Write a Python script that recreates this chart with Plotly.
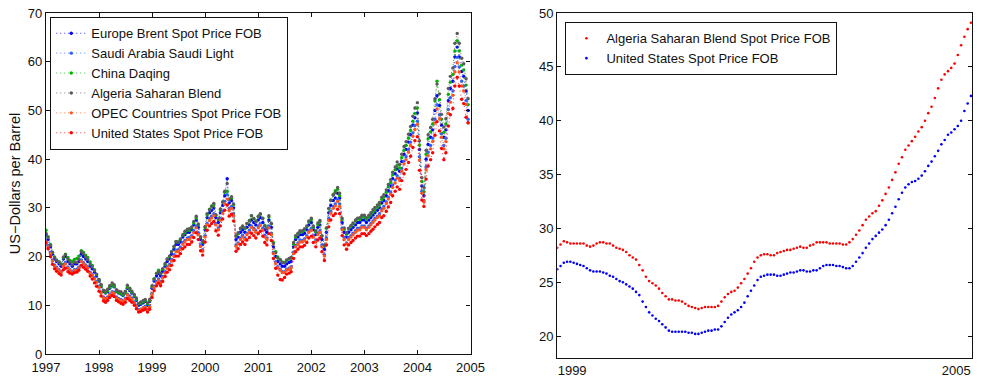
import plotly.graph_objects as go
import pandas as pd

# ---------------- Left chart data (semi-monthly, chart time 1997-2005) ----------------
dates_left = pd.date_range('1997-01-01', periods=192, freq='SMS')

europe_brent = [
    24.5, 23.5, 22.0, 20.5, 19.5, 19.0, 18.5, 18.0, 19.5, 20.0, 19.0, 18.5, 18.0, 18.5, 18.5, 19.0, 20.5, 20.0, 19.5, 19.0, 18.0, 17.5, 16.8, 16.0,
    15.0, 13.8, 12.8, 12.5, 12.8, 13.5, 14.0, 13.8, 12.8, 12.5, 12.3, 12.0, 12.5, 13.5, 13.0, 12.5, 11.8, 11.0, 10.0, 10.2, 10.5, 10.8, 10.0, 10.8,
    13.5, 15.0, 16.0, 16.5, 16.0, 17.0, 18.0, 19.0, 19.5, 20.5, 21.5, 22.5, 22.5, 23.0, 24.0, 24.5, 25.0, 25.0, 25.5, 26.5, 27.5, 26.0, 23.5, 22.5,
    25.5, 28.0, 29.0, 29.5, 30.0, 28.0, 27.0, 29.0, 30.5, 32.5, 36.0, 31.0, 31.5, 30.0, 23.5, 24.0, 25.0, 25.5, 25.0, 26.0, 26.5, 27.5, 27.0, 26.5,
    27.5, 28.0, 27.0, 25.5, 25.0, 27.5, 26.0, 22.0, 20.0, 19.0, 18.5, 18.0, 18.0, 18.5, 18.8, 19.0, 22.0, 23.5, 24.0, 24.5, 24.5, 24.8, 25.5, 26.5,
    27.0, 25.5, 24.5, 26.0, 26.5, 23.5, 21.5, 25.0, 29.0, 30.5, 31.5, 32.0, 33.0, 32.0, 27.0, 25.0, 24.0, 25.0, 25.5, 26.0, 26.5, 27.0, 27.0, 27.5,
    27.5, 27.0, 27.5, 28.0, 28.5, 29.0, 29.5, 30.0, 31.0, 31.5, 32.5, 33.5, 34.5, 36.0, 37.0, 38.0, 37.5, 39.5, 41.0, 42.0, 43.5, 45.0, 47.0, 48.5,
    49.5, 42.0, 34.5, 32.5, 40.0, 43.0, 44.5, 46.0, 50.0, 53.0, 51.0, 47.0, 44.5, 46.0, 52.0, 54.5, 56.0, 61.0, 63.0, 61.0, 58.0, 57.0, 54.0, 50.0,
]

saudi_light = [
    23.2, 22.3, 20.9, 19.3, 18.3, 17.8, 17.3, 16.9, 18.4, 18.8, 17.8, 17.3, 16.9, 17.3, 17.4, 17.8, 19.3, 18.8, 18.3, 17.9, 16.8, 16.3, 15.7, 14.9,
    13.9, 12.7, 11.7, 11.4, 11.7, 12.3, 12.8, 12.7, 11.7, 11.4, 11.2, 10.9, 11.4, 12.3, 11.9, 11.4, 10.7, 10.0, 9.1, 9.2, 9.5, 9.8, 9.1, 9.8,
    12.4, 13.9, 14.9, 15.4, 14.9, 15.9, 16.9, 17.9, 18.4, 19.4, 20.4, 21.3, 21.4, 21.9, 22.9, 23.3, 23.8, 23.9, 24.3, 25.3, 26.3, 24.9, 22.4, 21.4,
    24.3, 26.8, 27.8, 28.3, 28.8, 26.8, 25.9, 27.8, 29.3, 31.3, 32.7, 29.9, 30.3, 28.8, 22.4, 22.8, 23.8, 24.4, 23.8, 24.8, 25.4, 26.3, 25.8, 25.3,
    26.3, 26.8, 25.8, 24.4, 23.8, 26.3, 24.8, 20.9, 18.9, 17.9, 17.4, 16.9, 16.9, 17.4, 17.6, 17.9, 20.9, 22.3, 22.8, 23.4, 23.3, 23.6, 24.3, 25.3,
    25.8, 24.3, 23.4, 24.8, 25.3, 22.4, 20.4, 23.8, 27.8, 29.3, 30.3, 30.8, 31.8, 30.8, 25.8, 23.9, 22.8, 23.9, 24.3, 24.8, 25.3, 25.8, 25.8, 26.3,
    26.3, 25.8, 26.3, 26.8, 27.3, 27.8, 28.3, 28.8, 29.8, 30.3, 31.2, 32.2, 33.2, 34.7, 35.7, 36.6, 36.1, 38.1, 39.6, 40.5, 42.0, 43.5, 45.4, 46.9,
    47.8, 40.5, 33.4, 31.4, 38.4, 41.4, 42.8, 44.3, 48.2, 51.2, 49.1, 45.2, 42.8, 44.3, 50.2, 52.6, 54.0, 59.0, 60.9, 58.9, 56.0, 55.0, 52.0, 48.2,
]

china_daqing = [
    25.4, 24.1, 22.5, 20.8, 19.9, 19.3, 18.9, 18.5, 19.8, 20.5, 19.8, 19.2, 19.0, 19.4, 19.6, 20.1, 21.2, 20.9, 20.3, 19.8, 18.9, 18.2, 17.3, 16.3,
    15.2, 14.0, 13.0, 12.6, 13.0, 13.7, 14.2, 13.9, 12.9, 12.6, 12.4, 12.1, 12.6, 13.7, 13.2, 12.7, 11.9, 11.2, 10.3, 10.4, 10.7, 11.0, 10.3, 11.0,
    13.8, 15.4, 16.6, 17.2, 16.5, 17.4, 18.4, 19.5, 20.0, 21.0, 22.0, 23.0, 23.0, 23.5, 24.4, 24.9, 25.4, 25.4, 25.9, 26.9, 27.9, 26.5, 24.0, 23.0,
    26.0, 28.6, 29.7, 30.4, 30.6, 28.5, 27.6, 29.6, 31.2, 33.2, 33.4, 31.8, 32.1, 30.7, 24.2, 24.7, 25.7, 26.2, 25.8, 26.8, 27.4, 28.4, 27.8, 27.3,
    28.2, 28.7, 27.9, 26.4, 25.9, 28.1, 26.8, 22.9, 21.0, 19.9, 19.4, 18.9, 18.8, 19.2, 19.5, 19.8, 22.6, 24.0, 24.6, 25.1, 25.1, 25.4, 26.1, 27.1,
    27.6, 26.0, 25.1, 26.6, 27.2, 24.2, 22.2, 25.8, 29.8, 31.6, 32.8, 33.5, 33.8, 32.5, 27.6, 25.6, 24.6, 25.7, 26.2, 26.7, 27.3, 27.7, 27.6, 28.1,
    28.1, 27.6, 28.1, 28.6, 29.1, 29.6, 30.1, 30.7, 31.7, 32.2, 33.2, 34.3, 35.2, 36.8, 37.8, 38.7, 38.2, 40.3, 41.8, 42.8, 44.3, 45.9, 47.8, 49.4,
    50.5, 42.9, 35.4, 33.3, 41.0, 44.2, 45.6, 47.2, 52.0, 56.0, 52.2, 48.2, 45.5, 47.2, 53.3, 55.8, 57.4, 62.2, 64.3, 62.2, 59.3, 58.3, 55.2, 51.2,
]

algeria_saharan = [
    24.8, 23.9, 22.3, 20.9, 19.8, 19.2, 18.9, 18.4, 19.9, 20.4, 19.5, 18.9, 18.3, 18.9, 18.8, 19.5, 21.0, 20.6, 19.9, 19.4, 18.5, 17.9, 17.1, 16.4,
    15.3, 14.3, 13.1, 12.9, 13.3, 14.0, 14.6, 14.2, 13.2, 12.9, 12.8, 12.4, 12.9, 14.1, 13.5, 12.9, 12.2, 11.5, 10.4, 10.7, 11.0, 11.2, 10.5, 11.2,
    14.0, 15.4, 16.5, 16.9, 16.6, 17.5, 18.6, 19.5, 20.1, 21.0, 22.1, 23.1, 23.0, 23.6, 24.5, 25.2, 25.6, 25.7, 26.1, 27.2, 28.3, 26.7, 24.1, 23.2,
    26.2, 28.8, 29.6, 30.3, 30.9, 28.6, 27.8, 29.8, 31.2, 33.4, 35.0, 31.8, 32.3, 30.8, 24.3, 24.9, 25.8, 26.3, 25.9, 26.8, 27.3, 28.4, 27.8, 27.2,
    28.3, 28.8, 27.8, 26.3, 25.7, 28.4, 26.8, 22.7, 20.8, 19.7, 19.3, 18.8, 18.7, 19.3, 19.6, 19.8, 22.9, 24.3, 24.8, 25.3, 25.3, 25.7, 26.3, 27.3,
    27.9, 26.3, 25.3, 26.9, 27.4, 24.3, 22.4, 25.9, 29.9, 31.5, 32.6, 33.1, 34.2, 33.0, 27.9, 25.9, 24.9, 25.8, 26.4, 26.9, 27.5, 27.9, 28.0, 28.5,
    28.5, 28.0, 28.5, 29.0, 29.6, 30.1, 30.6, 31.1, 32.2, 32.7, 33.7, 34.8, 35.8, 37.3, 38.4, 39.4, 38.9, 41.0, 42.6, 43.6, 45.1, 46.7, 48.8, 50.5,
    51.6, 43.8, 36.2, 34.2, 41.8, 45.0, 46.5, 48.2, 52.4, 55.4, 53.4, 49.2, 46.6, 48.3, 54.5, 57.0, 58.7, 63.8, 65.8, 63.8, 60.7, 59.6, 56.5, 52.4,
]

opec_countries = [
    23.0, 22.0, 20.6, 19.1, 18.1, 17.6, 17.1, 16.7, 18.0, 18.5, 17.6, 17.1, 16.6, 17.1, 17.1, 17.6, 19.0, 18.5, 18.0, 17.6, 16.6, 16.1, 15.4, 14.7,
    13.7, 12.5, 11.5, 11.2, 11.5, 12.1, 12.6, 12.4, 11.5, 11.2, 11.0, 10.7, 11.2, 12.1, 11.6, 11.2, 10.5, 9.8, 8.9, 9.1, 9.4, 9.6, 8.9, 9.6,
    12.2, 13.6, 14.6, 15.1, 14.6, 15.6, 16.6, 17.6, 18.1, 19.1, 20.0, 21.0, 21.0, 21.5, 22.5, 23.0, 23.5, 23.5, 24.0, 24.9, 25.9, 24.5, 22.1, 21.1,
    24.0, 26.5, 27.4, 27.9, 28.4, 26.5, 25.5, 27.4, 28.9, 30.8, 31.8, 29.4, 29.9, 28.4, 22.1, 22.6, 23.5, 24.0, 23.5, 24.5, 25.0, 26.0, 25.5, 25.0,
    25.9, 26.4, 25.4, 24.0, 23.5, 25.9, 24.5, 20.6, 18.6, 17.7, 17.2, 16.7, 16.7, 17.2, 17.4, 17.7, 20.6, 22.0, 22.5, 23.0, 23.0, 23.3, 24.0, 25.0,
    25.4, 24.0, 23.0, 24.5, 25.0, 22.0, 20.1, 23.5, 27.4, 28.9, 29.9, 30.4, 31.3, 30.3, 25.5, 23.5, 22.6, 23.5, 24.0, 24.5, 25.0, 25.4, 25.5, 26.0,
    26.0, 25.5, 26.0, 26.5, 27.0, 27.5, 28.0, 28.4, 29.4, 29.9, 30.9, 31.8, 32.8, 34.2, 35.1, 36.1, 35.6, 37.5, 39.0, 39.9, 41.4, 42.8, 44.7, 46.1,
    47.1, 39.8, 33.0, 31.2, 37.8, 40.7, 42.1, 43.6, 47.4, 50.3, 48.3, 44.5, 42.1, 43.6, 49.4, 51.7, 53.1, 57.9, 59.8, 57.9, 55.0, 54.0, 51.2, 47.4,
]

united_states = [
    22.8, 21.6, 20.0, 18.4, 17.5, 17.0, 16.5, 16.2, 17.3, 17.6, 16.9, 16.6, 16.4, 16.7, 16.8, 17.2, 18.2, 17.8, 17.4, 17.0, 16.0, 15.4, 14.6, 13.9,
    12.9, 11.9, 10.9, 10.6, 11.0, 11.6, 12.0, 11.8, 11.0, 10.7, 10.4, 10.2, 10.6, 11.4, 11.0, 10.6, 10.0, 9.3, 8.6, 8.7, 9.0, 9.2, 8.6, 9.2,
    11.6, 13.0, 14.0, 14.5, 14.0, 14.9, 15.9, 16.8, 17.3, 18.2, 19.2, 20.1, 20.1, 20.6, 21.6, 22.0, 22.5, 22.5, 23.0, 23.9, 24.9, 23.5, 21.2, 20.3,
    23.0, 25.4, 26.3, 26.8, 27.2, 25.3, 24.4, 26.3, 27.7, 29.5, 30.6, 28.3, 28.7, 27.3, 21.1, 21.6, 22.5, 23.0, 22.5, 23.4, 23.9, 24.8, 24.3, 23.8,
    24.7, 25.2, 24.2, 22.9, 22.4, 24.7, 23.3, 19.6, 17.6, 16.2, 15.3, 15.2, 15.7, 16.4, 16.6, 16.9, 19.6, 21.0, 21.5, 22.0, 22.0, 22.3, 22.9, 23.8,
    24.2, 22.9, 22.0, 23.4, 23.8, 21.0, 19.2, 22.4, 26.1, 27.5, 28.4, 28.8, 29.7, 28.8, 24.3, 22.4, 21.5, 22.4, 22.9, 23.3, 23.8, 24.2, 24.2, 24.7,
    24.7, 24.3, 24.7, 25.2, 25.6, 26.1, 26.6, 27.0, 28.0, 28.4, 29.3, 30.2, 31.1, 32.5, 33.4, 34.3, 33.8, 35.6, 37.0, 37.9, 39.3, 40.6, 42.4, 43.8,
    44.6, 37.7, 31.6, 30.3, 35.9, 38.6, 39.9, 41.3, 44.9, 47.7, 45.8, 42.2, 39.9, 41.3, 46.8, 49.1, 50.4, 55.0, 56.8, 55.0, 52.3, 51.4, 48.6, 47.5,
]

left_names = [
    'Europe Brent Spot Price FOB',
    'Saudi Arabia Saudi Light',
    'China Daqing',
    'Algeria Saharan Blend',
    'OPEC Countries Spot Price FOB',
    'United States Spot Price FOB',
]
left_colors = ['#0000ff', '#2a62ff', '#00b400', '#5a5a5a', '#ff5520', '#ff0000']
left_values = [europe_brent, saudi_light, china_daqing, algeria_saharan, opec_countries, united_states]
left_year_ticks = ['1997', '1998', '1999', '2000', '2001', '2002', '2003', '2004', '2005']

# ---------------- Right chart data (smoothed series) ----------------
dates_right = pd.date_range('1998-10-08', '2005-03-26', periods=127)

algeria_smoothed = [
    28.2, 28.5, 28.8, 28.7, 28.6, 28.6, 28.6, 28.6, 28.6, 28.4,
    28.3, 28.4, 28.6, 28.7, 28.7, 28.6, 28.6, 28.4, 28.2, 28.1,
    28.0, 27.8, 27.5, 27.3, 27.1, 26.6, 26.1, 25.5, 25.1, 24.9,
    24.7, 24.4, 24.0, 23.7, 23.4, 23.4, 23.3, 23.3, 23.2, 23.0,
    22.8, 22.7, 22.6, 22.5, 22.6, 22.7, 22.7, 22.7, 22.7, 22.8,
    23.2, 23.6, 23.9, 24.1, 24.2, 24.5, 24.9, 25.3, 25.8, 26.3,
    26.9, 27.3, 27.5, 27.6, 27.6, 27.5, 27.5, 27.7, 27.8, 27.9,
    28.0, 28.0, 28.1, 28.2, 28.3, 28.2, 28.2, 28.4, 28.5, 28.7,
    28.7, 28.7, 28.7, 28.6, 28.6, 28.6, 28.6, 28.5, 28.5, 28.7,
    29.0, 29.4, 29.8, 30.3, 30.8, 31.1, 31.4, 31.6, 32.1, 32.6,
    33.2, 33.8, 34.5, 35.2, 36.0, 36.6, 37.3, 37.7, 38.1, 38.5,
    39.0, 39.4, 40.0, 40.7, 41.3, 42.1, 43.0, 43.8, 44.3, 44.6,
    44.9, 45.3, 46.1, 47.0, 47.8, 48.5, 49.1,
]

us_smoothed = [
    26.2, 26.5, 26.8, 26.9, 26.9, 26.8, 26.7, 26.6, 26.5, 26.3,
    26.1, 26.0, 26.0, 26.0, 25.9, 25.8, 25.6, 25.5, 25.3, 25.1,
    25.0, 24.8, 24.6, 24.4, 24.1, 23.8, 23.2, 22.7, 22.2, 21.9,
    21.6, 21.4, 21.1, 20.8, 20.5, 20.4, 20.4, 20.4, 20.4, 20.4,
    20.3, 20.3, 20.2, 20.2, 20.3, 20.4, 20.5, 20.5, 20.6, 20.6,
    20.9, 21.3, 21.7, 22.0, 22.2, 22.4, 22.7, 23.1, 23.7, 24.2,
    24.7, 25.2, 25.5, 25.6, 25.7, 25.7, 25.7, 25.6, 25.6, 25.7,
    25.8, 25.9, 25.9, 26.0, 26.1, 26.1, 26.0, 26.0, 26.1, 26.1,
    26.3, 26.5, 26.6, 26.6, 26.6, 26.5, 26.5, 26.4, 26.3, 26.3,
    26.5, 26.9, 27.3, 27.7, 28.2, 28.6, 29.0, 29.3, 29.6, 29.9,
    30.3, 30.8, 31.4, 32.0, 32.7, 33.3, 33.8, 34.1, 34.3, 34.4,
    34.6, 34.9, 35.3, 35.8, 36.2, 36.7, 37.2, 37.8, 38.2, 38.7,
    38.9, 39.2, 39.5, 40.0, 40.9, 41.6, 42.3,
]

right_names = ['Algeria Saharan Blend Spot Price FOB', 'United States Spot Price FOB']
right_colors = ['#ff0000', '#0000ff']
right_values = [algeria_smoothed, us_smoothed]
right_year_ticks = ['1999', '2005']
right_y_ticks = [20, 25, 30, 35, 40, 45, 50]

FONT = 'Liberation Sans, Arial, Helvetica, sans-serif'
INK = '#111111'

fig = go.Figure()
for name, vals, col in zip(left_names, left_values, left_colors):
    fig.add_trace(go.Scatter(
        x=dates_left[:len(vals)], y=vals, name=name, mode='lines+markers',
        line=dict(color=col, width=0.8, dash='1px,3px'),
        marker=dict(color=col, size=3.4, line=dict(width=0)),
        xaxis='x', yaxis='y', legend='legend'))

for name, vals, col in zip(right_names, right_values, right_colors):
    fig.add_trace(go.Scatter(
        x=dates_right[:len(vals)], y=vals, name=name, mode='markers',
        marker=dict(color=col, size=2.6, line=dict(width=0)),
        xaxis='x2', yaxis='y2', legend='legend2'))

axis_common = dict(showline=True, linecolor=INK, linewidth=1.3, showgrid=False,
                   zeroline=False, tickcolor=INK, tickfont=dict(size=13, color=INK, family=FONT))

fig.update_layout(
    width=986, height=378, autosize=False,
    margin=dict(l=46, r=0, t=13, b=20),
    paper_bgcolor='white', plot_bgcolor='white',
    font=dict(family=FONT, size=13, color=INK),
    xaxis=dict(domain=[0, 0.4585], anchor='y', type='date',
               range=['1997-01-01', '2005-01-01'],
               tickvals=[y + '-01-01' for y in left_year_ticks], ticktext=left_year_ticks,
               ticks='inside', ticklen=4, mirror='ticks', ticklabelstandoff=1, **axis_common),
    yaxis=dict(domain=[0.0116, 1], anchor='x', range=[0, 70], dtick=10,
               ticks='inside', ticklen=4, mirror='ticks',
               title=dict(text='US\u2212Dollars per Barrel', font=dict(size=14.5), standoff=3),
               **axis_common),
    xaxis2=dict(domain=[0.5521, 1], anchor='y2', type='date',
                range=['1998-10-08', '2005-04-01'],
                tickvals=[y + '-01-01' for y in right_year_ticks], ticktext=right_year_ticks,
                ticks='', mirror=True, **axis_common),
    yaxis2=dict(domain=[0, 1], anchor='x2', range=[17.96, 50], tickvals=right_y_ticks,
                ticks='inside', ticklen=4, mirror='ticks', **axis_common),
    legend=dict(x=0.00426, y=0.9884, xanchor='left', yanchor='top',
                bgcolor='white', bordercolor=INK, borderwidth=1.3,
                font=dict(size=13, family=FONT, color=INK), tracegroupgap=0),
    legend2=dict(x=0.5606, y=0.9739, xanchor='left', yanchor='top',
                 bgcolor='white', bordercolor=INK, borderwidth=1.3,
                 font=dict(size=13, family=FONT, color=INK), tracegroupgap=0),
    showlegend=True,
)

fig.write_html('out.html', config={'responsive': False, 'displayModeBar': False})
